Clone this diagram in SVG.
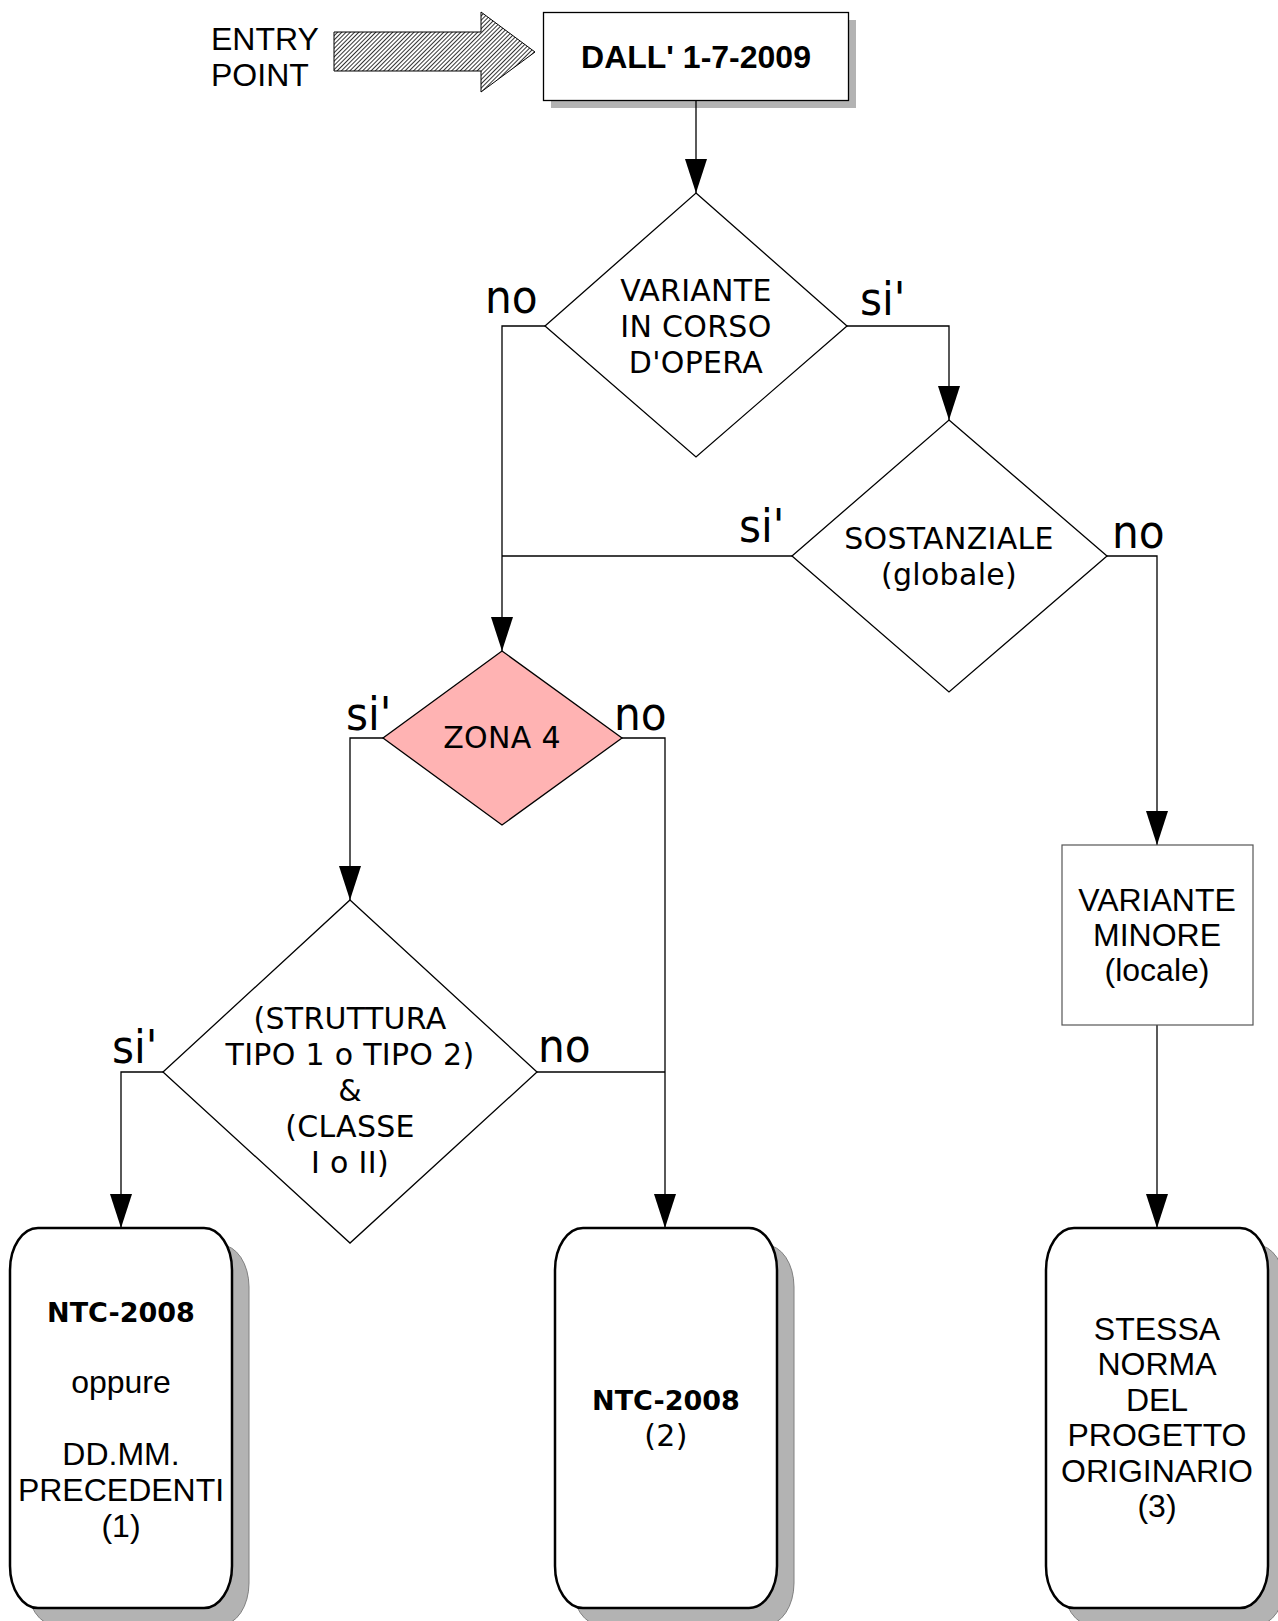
<svg xmlns="http://www.w3.org/2000/svg" width="1278" height="1621" viewBox="0 0 1278 1621">
<style>
.conn{fill:none;stroke:#000;stroke-width:1.3}
.dia{fill:#fff;stroke:#000;stroke-width:1.3}
.t{font-family:"DejaVu Sans",sans-serif;font-size:30px;letter-spacing:0.3px;fill:#000;text-anchor:middle}
.lab{font-family:"DejaVu Sans Condensed","DejaVu Sans",sans-serif;font-size:47px;fill:#000}
.a{font-family:"Liberation Sans",Arial,sans-serif;font-size:32px;fill:#000;text-anchor:middle}
.b{font-family:"DejaVu Sans",sans-serif;font-weight:bold;font-size:27px;fill:#000;text-anchor:middle}
.shadow{fill:#b3b3b3;stroke:#808080;stroke-width:1}
.term{fill:#fff;stroke:#000;stroke-width:2.5}
</style>
<defs>
<marker id="arr" markerUnits="userSpaceOnUse" markerWidth="34" markerHeight="22" refX="34" refY="11" orient="auto">
<path d="M0,0 L34,11 L0,22 z" fill="#000"/>
</marker>
<pattern id="hatch" patternUnits="userSpaceOnUse" width="3" height="3" patternTransform="rotate(45)">
<rect width="3" height="3" fill="#fff"/>
<line x1="0" y1="0" x2="0" y2="3" stroke="#000" stroke-width="1.6"/>
</pattern>
</defs>
<rect width="1278" height="1621" fill="#fff"/>

<g id="entry">
<text class="a" style="text-anchor:start" x="211" y="50">ENTRY</text>
<text class="a" style="text-anchor:start" x="211" y="86">POINT</text>
<polygon points="334,32 481,32 481,12 535,52 481,92 481,71 334,71" fill="url(#hatch)" stroke="#000" stroke-width="1"/>
</g>

<g id="start">
<rect x="551" y="20" width="305" height="88" fill="#b3b3b3"/>
<rect x="543.5" y="12.5" width="305" height="88" fill="#fff" stroke="#000" stroke-width="1.3"/>
<text class="a" style="font-weight:bold" x="696" y="68">DALL' 1-7-2009</text>
</g>

<g id="connectors">
<path class="conn" d="M696,101 V193" marker-end="url(#arr)"/>
<path class="conn" d="M545,326 H502 V651" marker-end="url(#arr)"/>
<path class="conn" d="M847,326 H949 V420" marker-end="url(#arr)"/>
<path class="conn" d="M792,556 H502"/>
<path class="conn" d="M1107,556 H1157 V845" marker-end="url(#arr)"/>
<path class="conn" d="M383,738 H350 V900" marker-end="url(#arr)"/>
<path class="conn" d="M622,738 H665 V1228" marker-end="url(#arr)"/>
<path class="conn" d="M163,1072 H121 V1228" marker-end="url(#arr)"/>
<path class="conn" d="M537,1072 H665"/>
<path class="conn" d="M1157,1025 V1228" marker-end="url(#arr)"/>
</g>

<g id="variante">
<polygon class="dia" points="696,193 847,326 696,457 545,326"/>
<text class="t" x="696" y="301">VARIANTE</text>
<text class="t" x="696" y="337">IN CORSO</text>
<text class="t" x="696" y="373">D'OPERA</text>
<text class="lab" x="485" y="313">no</text>
<text class="lab" x="860" y="315">si'</text>
</g>

<g id="sostanziale">
<polygon class="dia" points="949,420 1107,556 949,692 792,556"/>
<text class="t" x="949" y="549">SOSTANZIALE</text>
<text class="t" x="949" y="585">(globale)</text>
<text class="lab" x="739" y="542">si'</text>
<text class="lab" x="1112" y="548">no</text>
</g>

<g id="zona4">
<polygon class="dia" style="fill:#ffb3b3" points="502,651 622,738 502,825 383,738"/>
<text class="t" x="502" y="748">ZONA 4</text>
<text class="lab" x="346" y="730">si'</text>
<text class="lab" x="614" y="730">no</text>
</g>

<g id="struttura">
<polygon class="dia" points="350,900 537,1072 350,1243 163,1072"/>
<text class="t" x="350" y="1029">(STRUTTURA</text>
<text class="t" x="350" y="1065">TIPO 1 o TIPO 2)</text>
<text class="t" x="350" y="1101">&amp;</text>
<text class="t" x="350" y="1137">(CLASSE</text>
<text class="t" x="350" y="1173">I o II)</text>
<text class="lab" x="112" y="1063">si'</text>
<text class="lab" x="538" y="1062">no</text>
</g>

<g id="minore">
<rect x="1062" y="845" width="191" height="180" fill="#fff" stroke="#555" stroke-width="1.2"/>
<text class="a" x="1157" y="911">VARIANTE</text>
<text class="a" x="1157" y="946">MINORE</text>
<text class="a" x="1157" y="981">(locale)</text>
</g>

<g id="out1">
<rect class="shadow" x="27" y="1245" width="222" height="380" rx="28" ry="42"/>
<rect class="term" x="10" y="1228" width="222" height="380" rx="28" ry="42"/>
<text class="b" x="121" y="1322">NTC-2008</text>
<text class="a" x="121" y="1393">oppure</text>
<text class="a" x="121" y="1465">DD.MM.</text>
<text class="a" x="121" y="1501">PRECEDENTI</text>
<text class="a" x="121" y="1537">(1)</text>
</g>

<g id="out2">
<rect class="shadow" x="572" y="1245" width="222" height="380" rx="28" ry="42"/>
<rect class="term" x="555" y="1228" width="222" height="380" rx="28" ry="42"/>
<text class="b" x="666" y="1410">NTC-2008</text>
<text class="t" x="666" y="1446">(2)</text>
</g>

<g id="out3">
<rect class="shadow" x="1063" y="1245" width="222" height="380" rx="28" ry="42"/>
<rect class="term" x="1046" y="1228" width="222" height="380" rx="28" ry="42"/>
<text class="a" x="1157" y="1340">STESSA</text>
<text class="a" x="1157" y="1375">NORMA</text>
<text class="a" x="1157" y="1411">DEL</text>
<text class="a" x="1157" y="1446">PROGETTO</text>
<text class="a" x="1157" y="1482">ORIGINARIO</text>
<text class="a" x="1157" y="1517">(3)</text>
</g>
</svg>
